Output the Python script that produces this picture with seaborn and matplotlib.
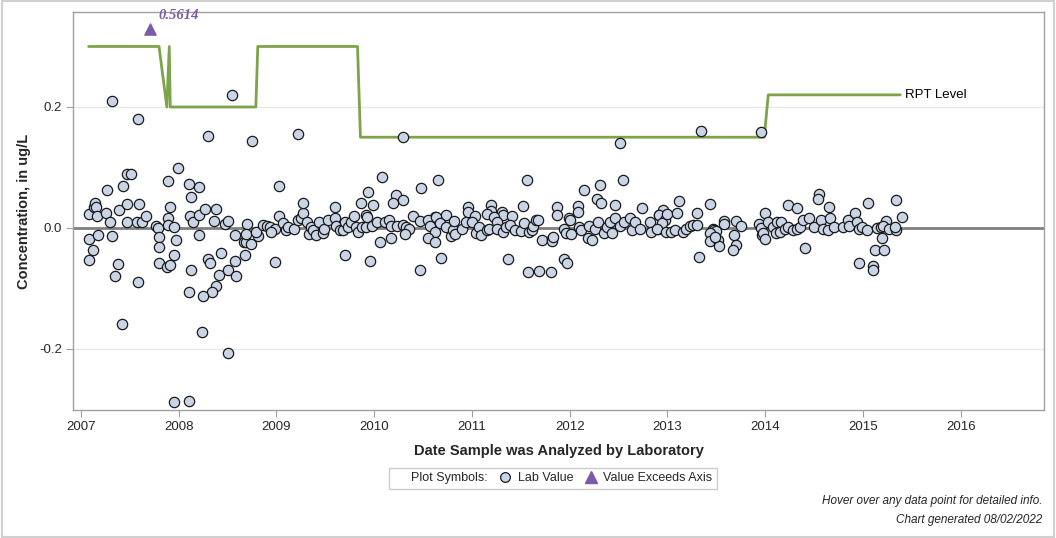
import matplotlib
matplotlib.use("Agg")
import matplotlib.pyplot as plt
from matplotlib.lines import Line2D
from matplotlib.patches import Rectangle
import seaborn as sns
import pandas as pd

# ─────────────────────────────────────────────
# DATA
# ─────────────────────────────────────────────
dates_2007 = [2007.08, 2007.14, 2007.15, 2007.16, 2007.17, 2007.26, 2007.30, 2007.39, 2007.47, 2007.47,
              2007.57, 2007.63, 2007.60, 2007.67, 2007.77, 2007.79, 2007.89, 2007.89, 2007.95, 2007.91,
              2007.32, 2007.58, 2007.995, 2007.47, 2007.51, 2007.43, 2007.27, 2007.89,
              2007.08, 2007.12, 2007.08, 2007.18, 2007.32, 2007.38, 2007.35, 2007.58, 2007.42, 2007.80,
              2007.80, 2007.97, 2007.95, 2007.80, 2007.88, 2007.91, 2007.95]
values_2007 = [0.023, 0.034, 0.042, 0.034, 0.020, 0.024, 0.010, 0.030, 0.040, 0.010,
               0.010, 0.010, 0.040, 0.019, 0.003, 0.000, 0.016, 0.005, 0.001, 0.034,
               0.210, 0.180, 0.099, 0.089, 0.089, 0.069, 0.063, 0.078,
               -0.018, -0.036, -0.053, -0.012, -0.014, -0.060, -0.079, -0.089, -0.159, -0.015,
               -0.032, -0.020, -0.044, -0.058, -0.064, -0.062, -0.288]

dates_2008 = [2008.12, 2008.15, 2008.21, 2008.27, 2008.38, 2008.36, 2008.47, 2008.51, 2008.70,
              2008.30, 2008.75, 2008.55, 2008.11, 2008.21, 2008.13,
              2008.13, 2008.11, 2008.24, 2008.51, 2008.11, 2008.21, 2008.30, 2008.32, 2008.43, 2008.41,
              2008.38, 2008.34, 2008.25, 2008.51, 2008.58, 2008.58, 2008.59, 2008.67, 2008.69, 2008.74,
              2008.68, 2008.69, 2008.81, 2008.79, 2008.86, 2008.90, 2008.93, 2008.99, 2008.95, 2008.99]
values_2008 = [0.019, 0.009, 0.021, 0.032, 0.032, 0.011, 0.006, 0.011, 0.006,
               0.152, 0.143, 0.219, 0.073, 0.068, 0.051,
               -0.069, -0.106, -0.172, -0.207, -0.286, -0.012, -0.051, -0.058, -0.042, -0.077,
               -0.096, -0.106, -0.112, -0.070, -0.012, -0.055, -0.079, -0.023, -0.024, -0.027,
               -0.045, -0.010, -0.013, -0.007, 0.005, 0.003, 0.002, -0.001, -0.007, -0.056]

dates_2009 = [2009.03, 2009.22, 2009.03, 2009.07, 2009.10, 2009.12, 2009.18, 2009.22, 2009.25, 2009.27,
              2009.27, 2009.31, 2009.33, 2009.35, 2009.37, 2009.41, 2009.44, 2009.48, 2009.49, 2009.53,
              2009.60, 2009.60, 2009.61, 2009.65, 2009.68, 2009.70, 2009.70, 2009.73, 2009.76, 2009.79,
              2009.81, 2009.84, 2009.87, 2009.88, 2009.92, 2009.92, 2009.94, 2009.96, 2009.93, 2009.99,
              2009.98]
values_2009 = [0.069, 0.155, 0.020, 0.008, -0.003, 0.002, -0.002, 0.013, 0.016, 0.025,
               0.041, 0.010, -0.010, 0.001, -0.003, -0.012, 0.009, -0.009, -0.001, 0.013,
               0.034, 0.016, 0.003, -0.003, -0.004, 0.010, -0.045, 0.002, 0.010, 0.019,
               0.002, -0.007, 0.041, 0.002, 0.021, 0.001, 0.059, -0.055, 0.018, 0.038,
               0.004]

dates_2010 = [2010.30, 2010.08, 2010.65, 2010.48, 2010.22, 2010.19, 2010.29, 2010.40, 2010.62, 2010.73,
              2010.03, 2010.11, 2010.15, 2010.17, 2010.23, 2010.29, 2010.33, 2010.36, 2010.32, 2010.06,
              2010.17, 2010.47, 2010.55, 2010.57, 2010.63, 2010.62, 2010.67, 2010.73, 2010.55, 2010.62,
              2010.68, 2010.47, 2010.79, 2010.81, 2010.82, 2010.83, 2010.90, 2010.94, 2010.96, 2010.96]
values_2010 = [0.150, 0.084, 0.080, 0.066, 0.055, 0.042, 0.046, 0.020, 0.018, 0.021,
               0.010, 0.010, 0.013, 0.004, 0.004, 0.005, 0.002, -0.002, -0.010, -0.023,
               -0.017, 0.012, 0.013, 0.003, 0.018, -0.006, 0.008, 0.001, -0.017, -0.023,
               -0.050, -0.069, -0.013, -0.003, 0.011, -0.010, -0.001, 0.009, 0.034, 0.026]

dates_2011 = [2011.56, 2011.52, 2011.19, 2011.20, 2011.31, 2011.32, 2011.41, 2011.03, 2011.15, 2011.23,
              2011.87, 2011.87, 2011.00, 2011.04, 2011.07, 2011.09, 2011.15, 2011.17, 2011.26, 2011.26,
              2011.32, 2011.35, 2011.39, 2011.37, 2011.44, 2011.50, 2011.53, 2011.58, 2011.61, 2011.62,
              2011.66, 2011.68, 2011.57, 2011.69, 2011.81, 2011.72, 2011.82, 2011.82, 2011.83, 2011.94,
              2011.96, 2011.99, 2011.94, 2011.97]
values_2011 = [0.079, 0.036, 0.038, 0.028, 0.026, 0.021, 0.019, 0.020, 0.023, 0.018,
               0.034, 0.021, 0.010, -0.009, 0.002, -0.012, -0.003, -0.001, 0.010, -0.002,
               -0.007, 0.002, 0.005, -0.051, -0.003, -0.005, 0.008, -0.007, -0.003, 0.004,
               0.013, 0.013, -0.073, -0.072, -0.073, -0.020, -0.018, -0.021, -0.015, -0.001,
               -0.009, 0.016, -0.052, -0.058]

dates_2012 = [2012.51, 2012.55, 2012.15, 2012.31, 2012.28, 2012.32, 2012.46, 2012.74, 2012.08, 2012.08,
              2012.00, 2012.01, 2012.09, 2012.12, 2012.19, 2012.20, 2012.23, 2012.26, 2012.29, 2012.35,
              2012.38, 2012.41, 2012.43, 2012.46, 2012.51, 2012.56, 2012.62, 2012.64, 2012.67, 2012.72,
              2012.82, 2012.83, 2012.90, 2012.91, 2012.95, 2012.91, 2012.97, 2012.94, 2012.89, 2012.98]
values_2012 = [0.140, 0.079, 0.063, 0.071, 0.048, 0.041, 0.038, 0.033, 0.037, 0.026,
               0.013, -0.010, 0.002, -0.003, -0.017, 0.004, -0.020, -0.002, 0.010, -0.009,
               0.002, 0.010, -0.009, 0.016, 0.003, 0.009, 0.016, -0.003, 0.010, -0.001,
               0.009, -0.007, -0.001, 0.021, 0.029, 0.021, 0.013, 0.008, -0.002, -0.007]

dates_2013 = [2013.34, 2013.96, 2013.12, 2013.43, 2013.00, 2013.10, 2013.30, 2013.04, 2013.08, 2013.16,
              2013.19, 2013.23, 2013.26, 2013.30, 2013.32, 2013.47, 2013.48, 2013.50, 2013.43, 2013.43,
              2013.52, 2013.53, 2013.49, 2013.58, 2013.58, 2013.68, 2013.70, 2013.67, 2013.70, 2013.75,
              2013.94, 2013.96, 2013.97, 2013.98]
values_2013 = [0.160, 0.159, 0.045, 0.040, 0.023, 0.025, 0.025, -0.007, -0.003, -0.006,
               -0.001, 0.003, 0.005, 0.005, -0.048, -0.001, -0.003, -0.005, -0.009, -0.021,
               -0.020, -0.030, -0.015, 0.012, 0.006, -0.012, -0.028, -0.036, 0.012, 0.003,
               0.007, 0.000, -0.012, -0.009]

dates_2014 = [2014.00, 2014.00, 2014.03, 2014.08, 2014.12, 2014.16, 2014.11, 2014.15, 2014.20, 2014.23,
              2014.28, 2014.32, 2014.36, 2014.39, 2014.41, 2014.45, 2014.50, 2014.57, 2014.59, 2014.66,
              2014.64, 2014.70, 2014.79, 2014.85, 2014.86, 2014.92, 2014.94, 2014.96, 2014.99, 2014.96,
              2014.55, 2014.54, 2014.23, 2014.32, 2014.65]
values_2014 = [0.024, -0.018, 0.009, 0.002, 0.010, 0.010, -0.009, -0.006, -0.002, 0.002,
               -0.003, -0.001, 0.002, 0.013, -0.033, 0.016, 0.002, 0.013, -0.001, 0.016,
               -0.004, 0.002, 0.002, 0.013, 0.003, 0.024, 0.009, -0.001, 0.001, -0.058,
               0.056, 0.048, 0.038, 0.033, 0.034]

dates_2015 = [2015.05, 2015.34, 2015.40, 2015.04, 2015.14, 2015.18, 2015.19, 2015.23, 2015.20, 2015.12,
              2015.21, 2015.10, 2015.10, 2015.27, 2015.34, 2015.33]
values_2015 = [0.041, 0.046, 0.018, -0.003, 0.000, 0.002, -0.017, 0.012, 0.004, -0.037,
               -0.037, -0.063, -0.069, -0.001, -0.003, 0.002]

# RPT level (reporting level) step line
rpt_dates = [2007.08, 2007.80, 2007.88, 2007.905, 2007.915, 2008.79, 2008.81, 2009.83, 2009.86,
             2013.99, 2014.03, 2015.38]
rpt_values = [0.30, 0.30, 0.20, 0.30, 0.20, 0.20, 0.30, 0.30, 0.15, 0.15, 0.22, 0.22]

# value above the axis range
exceed_dates = [2007.705]
exceed_values = [0.329]
exceed_labels = ["0.5614"]

year_ticks = list(range(2007, 2017))
y_ticks = [-0.2, 0.0, 0.2]

lab = pd.DataFrame({
    "date": dates_2007 + dates_2008 + dates_2009 + dates_2010 + dates_2011
            + dates_2012 + dates_2013 + dates_2014 + dates_2015,
    "value": values_2007 + values_2008 + values_2009 + values_2010 + values_2011
             + values_2012 + values_2013 + values_2014 + values_2015,
})
rpt = pd.DataFrame({"date": rpt_dates, "value": rpt_values})

# ─────────────────────────────────────────────
# PLOT
# ─────────────────────────────────────────────
sns.set_theme(style="white")
plt.rcParams['font.family'] = ['Liberation Sans', 'DejaVu Sans']

fig = plt.figure(figsize=(10.56, 5.38), dpi=100)
ax = fig.add_axes([0.0691, 0.2379, 0.9195, 0.7398])

face = '#c9d5e6'
green = '#7fa34a'
purple = '#7b5ca8'

ax.axhline(0, color='#808080', lw=2, zorder=1)
for yv in (-0.2, 0.2):
    ax.axhline(yv, color='#e8e8e8', lw=1, zorder=0)

sns.lineplot(data=rpt, x='date', y='value', ax=ax, color=green, lw=2,
             estimator=None, sort=False, zorder=2)
ax.text(rpt_dates[-1] + 0.05, rpt_values[-1], 'RPT Level', fontsize=9.5,
        va='center', ha='left', color='black')

sns.scatterplot(data=lab, x='date', y='value', ax=ax, s=55, color=face,
                edgecolor='#1a1a1a', linewidth=0.9, zorder=3)

ax.scatter(exceed_dates, exceed_values, marker='^', s=65, color=purple, zorder=3)
for xd, yd, lb in zip(exceed_dates, exceed_values, exceed_labels):
    ax.annotate(lb, (xd, yd), xytext=(6, 7), textcoords='offset points',
                fontsize=10.5, color=purple, fontweight='bold', style='italic',
                family=['Liberation Serif', 'DejaVu Serif'])

ax.set_xlim(2006.92, 2016.85)
ax.set_ylim(-0.301, 0.357)
ax.set_xticks(year_ticks)
ax.set_xticklabels([str(y) for y in year_ticks], fontsize=9.5)
ax.set_yticks(y_ticks)
ax.set_yticklabels([f'{v:.1f}' for v in y_ticks], fontsize=9.5)
ax.tick_params(axis='both', which='both', length=5, width=0.8, color='#a0a0a0',
               direction='out', bottom=True, left=True, pad=3)
ax.set_xlabel('Date Sample was Analyzed by Laboratory', fontsize=10.5, fontweight='bold', labelpad=8)
ax.set_ylabel('Concentration, in ug/L', fontsize=10.5, fontweight='bold', labelpad=6)
for sp in ax.spines.values():
    sp.set_color('#a0a0a0')
    sp.set_linewidth(1)

# legend box
handles = [
    Line2D([], [], linestyle='none', marker=None),
    Line2D([], [], linestyle='none', marker='o', markersize=7, markerfacecolor=face,
           markeredgecolor='#1a1a1a', markeredgewidth=0.9),
    Line2D([], [], linestyle='none', marker='^', markersize=8, color=purple),
]
leg = fig.legend(handles, ['Plot Symbols:', 'Lab Value', 'Value Exceeds Axis'],
                 loc='center', bbox_to_anchor=(0.5235, 0.111), ncol=3, fontsize=9,
                 frameon=True, fancybox=False, handlelength=0.8, handletextpad=0.6,
                 columnspacing=1.0, borderpad=0.35)
leg.get_frame().set_edgecolor('#c0c0c0')
leg.get_frame().set_linewidth(1)

fig.text(0.987, 0.068, 'Hover over any data point for detailed info.', ha='right',
         va='center', fontsize=8.5, style='italic')
fig.text(0.987, 0.033, 'Chart generated 08/02/2022', ha='right', va='center',
         fontsize=8.5, style='italic')

# light outer border of the graphic
fig.patches.append(Rectangle((0.0015, 0.002), 0.997, 0.996, transform=fig.transFigure,
                             fill=False, edgecolor='#d0d0d0', lw=1.5))

fig.savefig('out.png', dpi=100)
